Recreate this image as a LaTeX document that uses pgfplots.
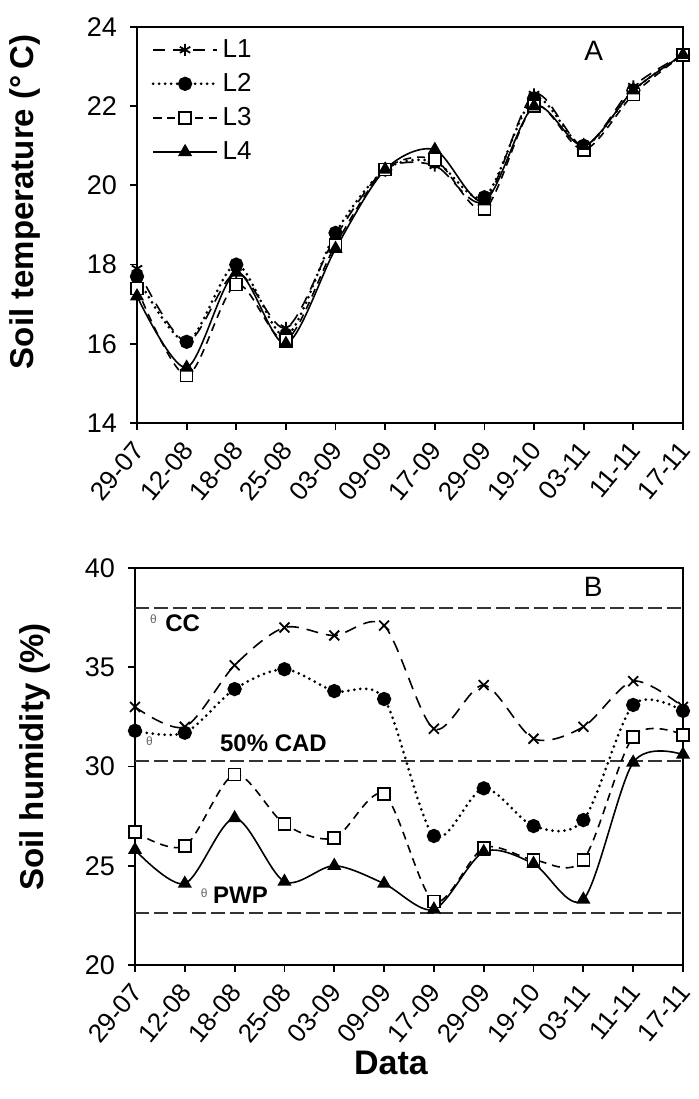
\documentclass[border=0pt]{standalone}
\usepackage{fontspec}
\setmainfont{Liberation Sans}
\usepackage{pgfplots}
\pgfplotsset{compat=1.18}
\pgfplotsset{
 common/.style={
  scale only axis, xmin=0, xmax=11, xtick={0,...,11},
  xticklabels={29-07,12-08,18-08,25-08,03-09,09-09,17-09,29-09,19-10,03-11,11-11,17-11},
  xticklabel style={xshift=1.5pt, yshift=-7pt, rotate=50, anchor=east, font=\fontsize{13}{13}\selectfont, inner sep=1pt},
  yticklabel style={xshift=-3pt, font=\fontsize{13.5}{13.5}\selectfont},
  /pgf/number format/assume math mode=true,
  tick align=outside, xtick pos=bottom, ytick pos=left, major tick length=3.5pt,
  axis line style={line width=1pt}, every tick/.style={black, line width=0.9pt},
  clip=false,
 },
 l1/.style={black, line width=0.8pt, dash pattern=on 6pt off 4pt, smooth, mark options={solid, line width=0.9pt}},
 l2/.style={black, line width=1.5pt, line cap=round, dash pattern=on 0pt off 3pt, smooth, mark=*, mark size=2.8pt, mark options={solid}},
 l3/.style={black, line width=0.8pt, dash pattern=on 4pt off 3pt, smooth, mark=square*, mark size=3pt, mark options={solid, fill=white, line width=0.8pt}},
 l4/.style={black, line width=0.8pt, smooth, mark=triangle*, mark size=3.3pt, mark options={solid}},
 refl/.style={black!80, line width=1pt, dash pattern=on 7pt off 2.5pt},
 mylegimg/.style={legend image code/.code={\draw[mark repeat=2, mark phase=2, ##1] plot coordinates {(0pt,0pt) (16pt,0pt) (32pt,0pt)};}},
}
\begin{document}
\begin{tikzpicture}
\path[use as bounding box] (0pt,0pt) rectangle (349.5pt,549.5pt);
\begin{axis}[common, at={(68.5pt,338pt)}, anchor=south west, width=273pt, height=198pt,
 ymin=14, ymax=24, ytick={14,16,...,24},
 ylabel={Soil temperature (°\,C)},
 ylabel style={at={(axis description cs:-0.205,0.558)}, anchor=center, font=\fontsize{16.5}{16.5}\selectfont\bfseries},
 legend style={draw=none, fill=none, at={(0.015,0.99)}, anchor=north west,
   font=\fontsize{13}{13}\selectfont, row sep=2.5pt, cells={anchor=west}},
 mylegimg,
]
\addplot[l1, mark=asterisk, mark size=3pt] coordinates {(0,17.9) (1,16.05) (2,17.8) (3,16.4) (4,18.7) (5,20.4) (6,20.5) (7,19.6) (8,22.3) (9,21.0) (10,22.5) (11,23.3)};
\addlegendentry{L1}
\addplot[l2] coordinates {(0,17.7) (1,16.05) (2,18.0) (3,16.2) (4,18.8) (5,20.4) (6,20.6) (7,19.7) (8,22.2) (9,21.0) (10,22.4) (11,23.3)};
\addlegendentry{L2}
\addplot[l3] coordinates {(0,17.4) (1,15.2) (2,17.5) (3,16.1) (4,18.5) (5,20.4) (6,20.65) (7,19.4) (8,22.0) (9,20.9) (10,22.3) (11,23.3)};
\addlegendentry{L3}
\addplot[l4] coordinates {(0,17.2) (1,15.4) (2,17.8) (3,16.0) (4,18.4) (5,20.4) (6,20.9) (7,19.6) (8,22.0) (9,21.0) (10,22.4) (11,23.3)};
\addlegendentry{L4}
\node[font=\fontsize{14}{14}\selectfont] at (axis cs:9.2,23.4) {A};
\end{axis}

\begin{axis}[common, at={(67.5pt,67pt)}, anchor=south west, width=274pt, height=198.5pt,
 ymin=20, ymax=40, ytick={20,25,...,40},
 ylabel={Soil humidity (\%)},
 ylabel style={at={(axis description cs:-0.182,0.524)}, anchor=center, font=\fontsize{16.5}{16.5}\selectfont\bfseries},
 xlabel={Data},
 xlabel style={at={(axis description cs:0.467,-0.248)}, anchor=center, font=\fontsize{17}{17}\selectfont\bfseries},
]
\addplot[refl] coordinates {(0,38) (11,38)};
\addplot[refl] coordinates {(0,30.3) (11,30.3)};
\addplot[refl] coordinates {(0,22.6) (11,22.6)};
\addplot[l1, mark=x, mark size=3.5pt] coordinates {(0,33.0) (1,32.0) (2,35.1) (3,37.0) (4,36.6) (5,37.1) (6,31.9) (7,34.1) (8,31.4) (9,32.0) (10,34.3) (11,33.0)};
\addplot[l2] coordinates {(0,31.8) (1,31.7) (2,33.9) (3,34.9) (4,33.8) (5,33.4) (6,26.5) (7,28.9) (8,27.0) (9,27.3) (10,33.1) (11,32.8)};
\addplot[l3] coordinates {(0,26.7) (1,26.0) (2,29.6) (3,27.1) (4,26.4) (5,28.6) (6,23.2) (7,25.9) (8,25.3) (9,25.3) (10,31.5) (11,31.6)};
\addplot[l4] coordinates {(0,25.8) (1,24.1) (2,27.4) (3,24.2) (4,25.0) (5,24.1) (6,22.8) (7,25.7) (8,25.1) (9,23.3) (10,30.2) (11,30.6)};
\node[font=\fontsize{14}{14}\selectfont] at (axis cs:9.2,39.06) {B};
\node[font=\fontsize{6}{6}\selectfont, text=black!60] at (axis cs:0.37,37.4) {θ};
\node[font=\fontsize{12}{12}\selectfont\bfseries, anchor=west, inner sep=0pt] at (axis cs:0.6,37.2) {CC};
\node[font=\fontsize{6}{6}\selectfont, text=black!60] at (axis cs:0.29,31.25) {θ};
\node[font=\fontsize{12}{12}\selectfont\bfseries, anchor=west, inner sep=0pt] at (axis cs:1.7,31.17) {50\% CAD};
\node[font=\fontsize{6}{6}\selectfont, text=black!60] at (axis cs:1.39,23.6) {θ};
\node[font=\fontsize{12}{12}\selectfont\bfseries, anchor=west, inner sep=0pt] at (axis cs:1.56,23.5) {PWP};
\end{axis}
\end{tikzpicture}
\end{document}
